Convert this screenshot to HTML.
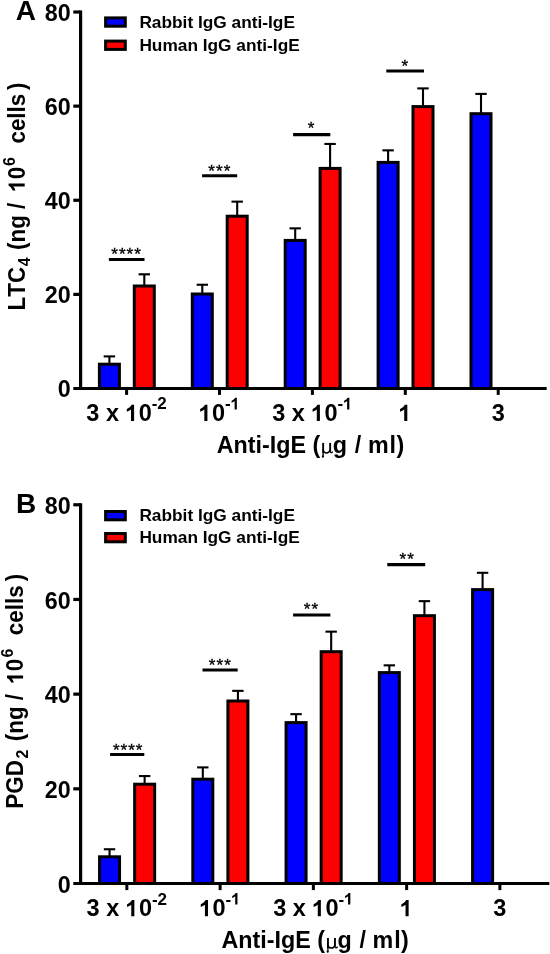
<!DOCTYPE html>
<html><head><meta charset="utf-8"><style>
html,body{margin:0;padding:0;background:#fff;width:550px;height:954px;overflow:hidden}
svg{display:block;will-change:transform}
text{font-family:"Liberation Sans", sans-serif;fill:#000;font-kerning:none}
.tl{font-size:23.3px;font-weight:bold}
.st{font-size:17px;font-weight:normal;stroke:#000;stroke-width:0.35px}
.xl{font-size:23.5px;font-weight:bold}
.sup{font-size:17px;font-weight:bold}
.ttl{font-size:23.3px;font-weight:bold}
.lg{font-size:17.3px;font-weight:bold}
.pl{font-size:28px;font-weight:bold}
.mu{font-family:"Liberation Serif",serif;font-weight:normal;fill-opacity:0}
</style></head><body>
<svg width="550" height="954" viewBox="0 0 550 954">
<line x1="80.6" y1="10.42" x2="80.6" y2="390.10" stroke="#000" stroke-width="3.2"/>
<line x1="73.30" y1="388.5" x2="546.7" y2="388.5" stroke="#000" stroke-width="3.2"/>
<line x1="73.30" y1="294.38" x2="80.6" y2="294.38" stroke="#000" stroke-width="3.2"/>
<line x1="73.30" y1="200.26" x2="80.6" y2="200.26" stroke="#000" stroke-width="3.2"/>
<line x1="73.30" y1="106.14" x2="80.6" y2="106.14" stroke="#000" stroke-width="3.2"/>
<line x1="73.30" y1="12.02" x2="80.6" y2="12.02" stroke="#000" stroke-width="3.2"/>
<text x="70.6" y="397.40" text-anchor="end" class="tl">0</text>
<text x="70.6" y="303.28" text-anchor="end" class="tl">20</text>
<text x="70.6" y="209.16" text-anchor="end" class="tl">40</text>
<text x="70.6" y="115.04" text-anchor="end" class="tl">60</text>
<text x="70.6" y="20.92" text-anchor="end" class="tl">80</text>
<line x1="126.60" y1="388.5" x2="126.60" y2="394.90" stroke="#000" stroke-width="3"/>
<line x1="219.50" y1="388.5" x2="219.50" y2="394.90" stroke="#000" stroke-width="3"/>
<line x1="312.40" y1="388.5" x2="312.40" y2="394.90" stroke="#000" stroke-width="3"/>
<line x1="405.30" y1="388.5" x2="405.30" y2="394.90" stroke="#000" stroke-width="3"/>
<line x1="498.20" y1="388.5" x2="498.20" y2="394.90" stroke="#000" stroke-width="3"/>
<line x1="109.40" y1="363.70" x2="109.40" y2="356.40" stroke="#000" stroke-width="2.1"/>
<line x1="103.70" y1="356.40" x2="115.10" y2="356.40" stroke="#000" stroke-width="2.1"/>
<rect x="99.40" y="364.20" width="20.00" height="24.30" fill="#0000ff" stroke="#000" stroke-width="3.0"/>
<line x1="144.30" y1="285.50" x2="144.30" y2="274.30" stroke="#000" stroke-width="2.1"/>
<line x1="138.60" y1="274.30" x2="150.00" y2="274.30" stroke="#000" stroke-width="2.1"/>
<rect x="134.30" y="286.00" width="20.00" height="102.50" fill="#ff0000" stroke="#000" stroke-width="3.0"/>
<line x1="202.30" y1="293.50" x2="202.30" y2="284.75" stroke="#000" stroke-width="2.1"/>
<line x1="196.60" y1="284.75" x2="208.00" y2="284.75" stroke="#000" stroke-width="2.1"/>
<rect x="192.30" y="294.00" width="20.00" height="94.50" fill="#0000ff" stroke="#000" stroke-width="3.0"/>
<line x1="237.20" y1="215.70" x2="237.20" y2="201.65" stroke="#000" stroke-width="2.1"/>
<line x1="231.50" y1="201.65" x2="242.90" y2="201.65" stroke="#000" stroke-width="2.1"/>
<rect x="227.20" y="216.20" width="20.00" height="172.30" fill="#ff0000" stroke="#000" stroke-width="3.0"/>
<line x1="295.20" y1="239.90" x2="295.20" y2="228.35" stroke="#000" stroke-width="2.1"/>
<line x1="289.50" y1="228.35" x2="300.90" y2="228.35" stroke="#000" stroke-width="2.1"/>
<rect x="285.20" y="240.40" width="20.00" height="148.10" fill="#0000ff" stroke="#000" stroke-width="3.0"/>
<line x1="330.10" y1="167.90" x2="330.10" y2="143.95" stroke="#000" stroke-width="2.1"/>
<line x1="324.40" y1="143.95" x2="335.80" y2="143.95" stroke="#000" stroke-width="2.1"/>
<rect x="320.10" y="168.40" width="20.00" height="220.10" fill="#ff0000" stroke="#000" stroke-width="3.0"/>
<line x1="388.10" y1="161.90" x2="388.10" y2="150.35" stroke="#000" stroke-width="2.1"/>
<line x1="382.40" y1="150.35" x2="393.80" y2="150.35" stroke="#000" stroke-width="2.1"/>
<rect x="378.10" y="162.40" width="20.00" height="226.10" fill="#0000ff" stroke="#000" stroke-width="3.0"/>
<line x1="423.00" y1="106.10" x2="423.00" y2="88.40" stroke="#000" stroke-width="2.1"/>
<line x1="417.30" y1="88.40" x2="428.70" y2="88.40" stroke="#000" stroke-width="2.1"/>
<rect x="413.00" y="106.60" width="20.00" height="281.90" fill="#ff0000" stroke="#000" stroke-width="3.0"/>
<line x1="481.00" y1="113.20" x2="481.00" y2="93.90" stroke="#000" stroke-width="2.1"/>
<line x1="475.30" y1="93.90" x2="486.70" y2="93.90" stroke="#000" stroke-width="2.1"/>
<rect x="471.00" y="113.70" width="20.00" height="274.80" fill="#0000ff" stroke="#000" stroke-width="3.0"/>
<line x1="108.9" y1="259.5" x2="144.5" y2="259.5" stroke="#000" stroke-width="3.1"/>
<text x="114.57" y="259.73" text-anchor="middle" class="st">*</text>
<text x="122.22" y="259.73" text-anchor="middle" class="st">*</text>
<text x="129.88" y="259.73" text-anchor="middle" class="st">*</text>
<text x="137.53" y="259.73" text-anchor="middle" class="st">*</text>
<line x1="202.1" y1="175.8" x2="237.2" y2="175.8" stroke="#000" stroke-width="3.1"/>
<text x="211.65" y="176.63" text-anchor="middle" class="st">*</text>
<text x="219.30" y="176.63" text-anchor="middle" class="st">*</text>
<text x="226.95" y="176.63" text-anchor="middle" class="st">*</text>
<line x1="293.1" y1="134.6" x2="330.3" y2="134.6" stroke="#000" stroke-width="3.1"/>
<text x="311.05" y="133.93" text-anchor="middle" class="st">*</text>
<line x1="386.3" y1="71" x2="424" y2="71" stroke="#000" stroke-width="3.1"/>
<text x="404.80" y="71.53" text-anchor="middle" class="st">*</text>
<line x1="80.6" y1="503.18" x2="80.6" y2="885.10" stroke="#000" stroke-width="3.2"/>
<line x1="73.30" y1="883.5" x2="549.3" y2="883.5" stroke="#000" stroke-width="3.2"/>
<line x1="73.30" y1="788.82" x2="80.6" y2="788.82" stroke="#000" stroke-width="3.2"/>
<line x1="73.30" y1="694.14" x2="80.6" y2="694.14" stroke="#000" stroke-width="3.2"/>
<line x1="73.30" y1="599.46" x2="80.6" y2="599.46" stroke="#000" stroke-width="3.2"/>
<line x1="73.30" y1="504.78" x2="80.6" y2="504.78" stroke="#000" stroke-width="3.2"/>
<text x="70.6" y="892.80" text-anchor="end" class="tl">0</text>
<text x="70.6" y="798.12" text-anchor="end" class="tl">20</text>
<text x="70.6" y="703.44" text-anchor="end" class="tl">40</text>
<text x="70.6" y="608.76" text-anchor="end" class="tl">60</text>
<text x="70.6" y="514.08" text-anchor="end" class="tl">80</text>
<line x1="126.85" y1="883.5" x2="126.85" y2="890.10" stroke="#000" stroke-width="3"/>
<line x1="220.11" y1="883.5" x2="220.11" y2="890.10" stroke="#000" stroke-width="3"/>
<line x1="313.37" y1="883.5" x2="313.37" y2="890.10" stroke="#000" stroke-width="3"/>
<line x1="406.63" y1="883.5" x2="406.63" y2="890.10" stroke="#000" stroke-width="3"/>
<line x1="499.89" y1="883.5" x2="499.89" y2="890.10" stroke="#000" stroke-width="3"/>
<line x1="109.55" y1="856.30" x2="109.55" y2="849.25" stroke="#000" stroke-width="2.1"/>
<line x1="103.85" y1="849.25" x2="115.25" y2="849.25" stroke="#000" stroke-width="2.1"/>
<rect x="99.55" y="856.80" width="20.00" height="26.70" fill="#0000ff" stroke="#000" stroke-width="3.0"/>
<line x1="144.65" y1="783.70" x2="144.65" y2="776.05" stroke="#000" stroke-width="2.1"/>
<line x1="138.95" y1="776.05" x2="150.35" y2="776.05" stroke="#000" stroke-width="2.1"/>
<rect x="134.65" y="784.20" width="20.00" height="99.30" fill="#ff0000" stroke="#000" stroke-width="3.0"/>
<line x1="202.81" y1="778.70" x2="202.81" y2="767.40" stroke="#000" stroke-width="2.1"/>
<line x1="197.11" y1="767.40" x2="208.51" y2="767.40" stroke="#000" stroke-width="2.1"/>
<rect x="192.81" y="779.20" width="20.00" height="104.30" fill="#0000ff" stroke="#000" stroke-width="3.0"/>
<line x1="237.91" y1="700.50" x2="237.91" y2="690.85" stroke="#000" stroke-width="2.1"/>
<line x1="232.21" y1="690.85" x2="243.61" y2="690.85" stroke="#000" stroke-width="2.1"/>
<rect x="227.91" y="701.00" width="20.00" height="182.50" fill="#ff0000" stroke="#000" stroke-width="3.0"/>
<line x1="296.07" y1="722.10" x2="296.07" y2="714.15" stroke="#000" stroke-width="2.1"/>
<line x1="290.37" y1="714.15" x2="301.77" y2="714.15" stroke="#000" stroke-width="2.1"/>
<rect x="286.07" y="722.60" width="20.00" height="160.90" fill="#0000ff" stroke="#000" stroke-width="3.0"/>
<line x1="331.17" y1="651.20" x2="331.17" y2="631.65" stroke="#000" stroke-width="2.1"/>
<line x1="325.47" y1="631.65" x2="336.87" y2="631.65" stroke="#000" stroke-width="2.1"/>
<rect x="321.17" y="651.70" width="20.00" height="231.80" fill="#ff0000" stroke="#000" stroke-width="3.0"/>
<line x1="389.33" y1="672.10" x2="389.33" y2="665.35" stroke="#000" stroke-width="2.1"/>
<line x1="383.63" y1="665.35" x2="395.03" y2="665.35" stroke="#000" stroke-width="2.1"/>
<rect x="379.33" y="672.60" width="20.00" height="210.90" fill="#0000ff" stroke="#000" stroke-width="3.0"/>
<line x1="424.43" y1="615.20" x2="424.43" y2="601.15" stroke="#000" stroke-width="2.1"/>
<line x1="418.73" y1="601.15" x2="430.13" y2="601.15" stroke="#000" stroke-width="2.1"/>
<rect x="414.43" y="615.70" width="20.00" height="267.80" fill="#ff0000" stroke="#000" stroke-width="3.0"/>
<line x1="482.59" y1="589.10" x2="482.59" y2="572.80" stroke="#000" stroke-width="2.1"/>
<line x1="476.89" y1="572.80" x2="488.29" y2="572.80" stroke="#000" stroke-width="2.1"/>
<rect x="472.59" y="589.60" width="20.00" height="293.90" fill="#0000ff" stroke="#000" stroke-width="3.0"/>
<line x1="110.1" y1="754.5" x2="144.3" y2="754.5" stroke="#000" stroke-width="3.1"/>
<text x="116.22" y="755.73" text-anchor="middle" class="st">*</text>
<text x="123.88" y="755.73" text-anchor="middle" class="st">*</text>
<text x="131.53" y="755.73" text-anchor="middle" class="st">*</text>
<text x="139.18" y="755.73" text-anchor="middle" class="st">*</text>
<line x1="202.5" y1="670" x2="237.7" y2="670" stroke="#000" stroke-width="3.1"/>
<text x="212.15" y="670.83" text-anchor="middle" class="st">*</text>
<text x="219.80" y="670.83" text-anchor="middle" class="st">*</text>
<text x="227.45" y="670.83" text-anchor="middle" class="st">*</text>
<line x1="293.1" y1="615" x2="330.4" y2="615" stroke="#000" stroke-width="3.1"/>
<text x="307.12" y="615.43" text-anchor="middle" class="st">*</text>
<text x="314.77" y="615.43" text-anchor="middle" class="st">*</text>
<line x1="387.3" y1="564.6" x2="425.2" y2="564.6" stroke="#000" stroke-width="3.1"/>
<text x="402.82" y="565.13" text-anchor="middle" class="st">*</text>
<text x="410.47" y="565.13" text-anchor="middle" class="st">*</text>
<text x="15.8" y="19.6" class="pl">A</text>
<text x="16.0" y="513.3" class="pl">B</text>
<rect x="105.6" y="17.90" width="19.7" height="8.3" fill="#0000ff" stroke="#000" stroke-width="3"/>
<rect x="105.6" y="41.10" width="19.7" height="8.3" fill="#ff0000" stroke="#000" stroke-width="3"/>
<text x="139.4" y="27.7" class="lg">Rabbit IgG anti-IgE</text>
<text x="139.4" y="50.8" class="lg">Human IgG anti-IgE</text>
<rect x="105.6" y="511.50" width="19.7" height="8.3" fill="#0000ff" stroke="#000" stroke-width="3"/>
<rect x="105.6" y="533.50" width="19.7" height="8.3" fill="#ff0000" stroke="#000" stroke-width="3"/>
<text x="139.4" y="521.3" class="lg">Rabbit IgG anti-IgE</text>
<text x="139.4" y="543.0" class="lg">Human IgG anti-IgE</text>
<text x="126.60" y="421.0" text-anchor="middle" class="xl">3 x  0<tspan class="sup" dy="-11.6">-2</tspan></text>
<text x="219.50" y="421.0" text-anchor="middle" class="xl"> 0<tspan class="sup" dy="-11.6">- </tspan></text>
<text x="312.40" y="421.0" text-anchor="middle" class="xl">3 x  0<tspan class="sup" dy="-11.6">- </tspan></text>
<text x="405.30" y="421.0" text-anchor="middle" class="xl"> </text>
<text x="498.20" y="421.0" text-anchor="middle" class="xl">3</text>
<text x="126.85" y="916.2" text-anchor="middle" class="xl">3 x  0<tspan class="sup" dy="-11.6">-2</tspan></text>
<text x="220.11" y="916.2" text-anchor="middle" class="xl"> 0<tspan class="sup" dy="-11.6">- </tspan></text>
<text x="313.37" y="916.2" text-anchor="middle" class="xl">3 x  0<tspan class="sup" dy="-11.6">- </tspan></text>
<text x="406.63" y="916.2" text-anchor="middle" class="xl"> </text>
<text x="499.89" y="916.2" text-anchor="middle" class="xl">3</text>
<text x="216.8" y="453.2" class="ttl">Anti-IgE (<tspan class="mu">μ</tspan>g <tspan dx="1.2">/</tspan> <tspan dx="0.2">m</tspan><tspan dx="0.8">l</tspan><tspan dx="0.5">)</tspan></text>
<text x="221.5" y="948.0" class="ttl">Anti-IgE (<tspan class="mu">μ</tspan>g <tspan dx="1.2">/</tspan> <tspan dx="0.2">m</tspan><tspan dx="0.8">l</tspan><tspan dx="0.5">)</tspan></text>
<g transform="translate(322.2 442.9)" fill="none" stroke="#000" stroke-linecap="butt"><path d="M0.95 0V10.2" stroke-width="1.9"/><path d="M0.9 10V13.6" stroke-width="1.3"/><ellipse cx="0.7" cy="13.6" rx="1.05" ry="1.2" fill="#000" stroke="none"/><path d="M0.95 6.6C1.1 10.9 6.6 11.2 7.95 7.2" stroke-width="1.5"/><path d="M7.95 0V8.6" stroke-width="1.9"/><path d="M7.95 8.2C8.0 10.3 9.6 10.3 10.5 8.6" stroke-width="1.3"/></g>
<g transform="translate(327.0 938.0)" fill="none" stroke="#000" stroke-linecap="butt"><path d="M0.95 0V10.2" stroke-width="1.9"/><path d="M0.9 10V13.6" stroke-width="1.3"/><ellipse cx="0.7" cy="13.6" rx="1.05" ry="1.2" fill="#000" stroke="none"/><path d="M0.95 6.6C1.1 10.9 6.6 11.2 7.95 7.2" stroke-width="1.5"/><path d="M7.95 0V8.6" stroke-width="1.9"/><path d="M7.95 8.2C8.0 10.3 9.6 10.3 10.5 8.6" stroke-width="1.3"/></g>
<text transform="translate(24.7 0) rotate(-90) scale(1 1.045)" class="ttl"><tspan x="-310.40" y="0" style="font-size:22.4px">LTC</tspan><tspan x="-266.14" y="4.6" class="sup" style="font-size:16.0px">4</tspan><tspan x="-249.92" y="0" style="font-size:22.4px">(ng /</tspan><tspan x="-191.64" y="0" style="font-size:22.4px"> 0</tspan><tspan x="-165.89" y="-9.6" class="sup" style="font-size:16.0px">6</tspan><tspan x="-143.57" y="0" style="font-size:22.4px">cells</tspan><tspan x="-89.92" y="0" style="font-size:22.4px">)</tspan></text>
<text transform="translate(23.1 0) rotate(-90) scale(1 1.045)" class="ttl"><tspan x="-808.70" y="0" style="font-size:22.4px">PGD</tspan><tspan x="-758.45" y="5.0" class="sup" style="font-size:16.0px">2</tspan><tspan x="-741.22" y="0" style="font-size:22.4px">(ng /</tspan><tspan x="-683.74" y="0" style="font-size:22.4px"> 0</tspan><tspan x="-657.49" y="-10.0" class="sup" style="font-size:16.0px">6</tspan><tspan x="-635.18" y="0" style="font-size:22.4px">cells</tspan><tspan x="-581.22" y="0" style="font-size:22.4px">)</tspan></text>
<g transform=""><path transform="translate(125.55 421.00) scale(0.01147 -0.01147)" d="M745 0L475 0L475 1000Q330 870 110 805L110 1050Q225 1090 355 1190Q485 1290 530 1409L745 1409Z"/></g>
<g transform=""><path transform="translate(198.87 421.00) scale(0.01147 -0.01147)" d="M745 0L475 0L475 1000Q330 870 110 805L110 1050Q225 1090 355 1190Q485 1290 530 1409L745 1409Z"/></g>
<g transform=""><path transform="translate(230.66 409.40) scale(0.00830 -0.00830)" d="M745 0L475 0L475 1000Q330 870 110 805L110 1050Q225 1090 355 1190Q485 1290 530 1409L745 1409Z"/></g>
<g transform=""><path transform="translate(311.35 421.00) scale(0.01147 -0.01147)" d="M745 0L475 0L475 1000Q330 870 110 805L110 1050Q225 1090 355 1190Q485 1290 530 1409L745 1409Z"/></g>
<g transform=""><path transform="translate(343.17 409.40) scale(0.00830 -0.00830)" d="M745 0L475 0L475 1000Q330 870 110 805L110 1050Q225 1090 355 1190Q485 1290 530 1409L745 1409Z"/></g>
<g transform=""><path transform="translate(398.76 421.00) scale(0.01147 -0.01147)" d="M745 0L475 0L475 1000Q330 870 110 805L110 1050Q225 1090 355 1190Q485 1290 530 1409L745 1409Z"/></g>
<g transform=""><path transform="translate(125.80 916.20) scale(0.01147 -0.01147)" d="M745 0L475 0L475 1000Q330 870 110 805L110 1050Q225 1090 355 1190Q485 1290 530 1409L745 1409Z"/></g>
<g transform=""><path transform="translate(199.48 916.20) scale(0.01147 -0.01147)" d="M745 0L475 0L475 1000Q330 870 110 805L110 1050Q225 1090 355 1190Q485 1290 530 1409L745 1409Z"/></g>
<g transform=""><path transform="translate(231.27 904.60) scale(0.00830 -0.00830)" d="M745 0L475 0L475 1000Q330 870 110 805L110 1050Q225 1090 355 1190Q485 1290 530 1409L745 1409Z"/></g>
<g transform=""><path transform="translate(312.32 916.20) scale(0.01147 -0.01147)" d="M745 0L475 0L475 1000Q330 870 110 805L110 1050Q225 1090 355 1190Q485 1290 530 1409L745 1409Z"/></g>
<g transform=""><path transform="translate(344.14 904.60) scale(0.00830 -0.00830)" d="M745 0L475 0L475 1000Q330 870 110 805L110 1050Q225 1090 355 1190Q485 1290 530 1409L745 1409Z"/></g>
<g transform=""><path transform="translate(400.09 916.20) scale(0.01147 -0.01147)" d="M745 0L475 0L475 1000Q330 870 110 805L110 1050Q225 1090 355 1190Q485 1290 530 1409L745 1409Z"/></g>
<g transform="translate(24.7 0) rotate(-90) scale(1 1.045)"><path transform="translate(-191.64 0.00) scale(0.01094 -0.01094)" d="M745 0L475 0L475 1000Q330 870 110 805L110 1050Q225 1090 355 1190Q485 1290 530 1409L745 1409Z"/></g>
<g transform="translate(23.1 0) rotate(-90) scale(1 1.045)"><path transform="translate(-683.74 0.00) scale(0.01094 -0.01094)" d="M745 0L475 0L475 1000Q330 870 110 805L110 1050Q225 1090 355 1190Q485 1290 530 1409L745 1409Z"/></g>
</svg></body></html>
